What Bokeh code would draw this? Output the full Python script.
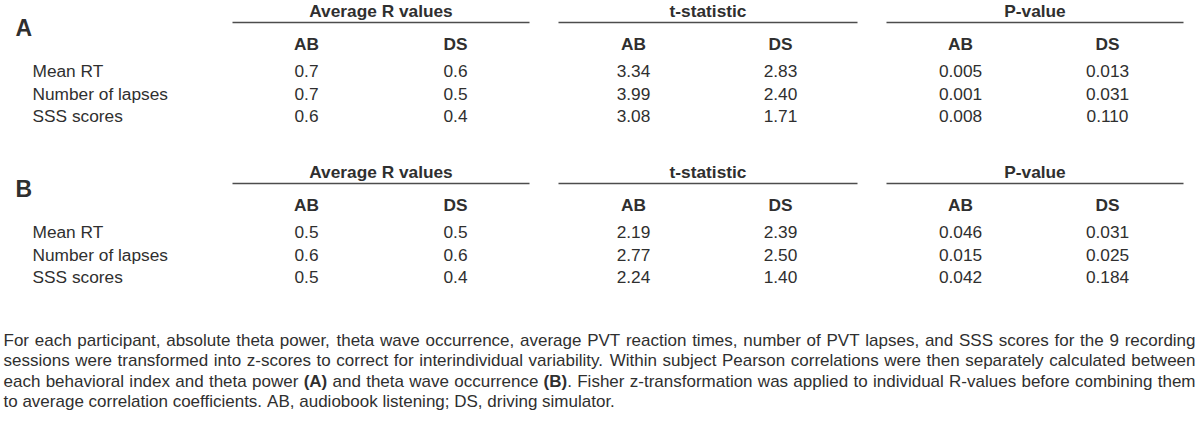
from bokeh.plotting import figure
from bokeh.models import Range1d, ColumnDataSource
from bokeh.core.properties import value
from bokeh.embed import file_html
from bokeh.resources import INLINE

# ---------------- data ----------------
row_labels = ["Mean RT", "Number of lapses", "SSS scores"]
group_titles = ["Average R values", "t-statistic", "P-value"]
sub_headers = ["AB", "DS"]
panel_letters = ["A", "B"]

# Panel A (theta power)
A_r_ab = [0.7, 0.7, 0.6]
A_r_ds = [0.6, 0.5, 0.4]
A_t_ab = [3.34, 3.99, 3.08]
A_t_ds = [2.83, 2.40, 1.71]
A_p_ab = [0.005, 0.001, 0.008]
A_p_ds = [0.013, 0.031, 0.110]

# Panel B (theta wave occurrence)
B_r_ab = [0.5, 0.6, 0.5]
B_r_ds = [0.5, 0.6, 0.4]
B_t_ab = [2.19, 2.77, 2.24]
B_t_ds = [2.39, 2.50, 1.40]
B_p_ab = [0.046, 0.015, 0.042]
B_p_ds = [0.031, 0.025, 0.184]

decimals = [1, 2, 3]

caption_runs = [
    [("For each participant, absolute theta power, theta wave occurrence, average PVT reaction times, number of PVT lapses, and SSS scores for the 9 recording", False)],
    [("sessions were transformed into z-scores to correct for interindividual variability. Within subject Pearson correlations were then separately calculated between", False)],
    [("each behavioral index and theta power ", False), ("(A)", True), (" and theta wave occurrence ", False), ("(B)", True),
     (". Fisher z-transformation was applied to individual R-values before combining them", False)],
    [("to average correlation coefficients. AB, audiobook listening; DS, driving simulator.", False)],
]

# ---------------- font metrics (Liberation Sans / Arial advance widths, 1/1000 em) ----------------
_REG = {' ': 278, '!': 278, '(': 333, ')': 333, ',': 278, '-': 333, '.': 278, ':': 278, ';': 278,
        'A': 667, 'B': 667, 'C': 722, 'D': 722, 'E': 667, 'F': 611, 'G': 778, 'H': 722, 'I': 278,
        'J': 500, 'K': 667, 'L': 556, 'M': 833, 'N': 722, 'O': 778, 'P': 667, 'Q': 778, 'R': 722,
        'S': 667, 'T': 611, 'U': 722, 'V': 667, 'W': 944, 'X': 667, 'Y': 667, 'Z': 611,
        'a': 556, 'b': 556, 'c': 500, 'd': 556, 'e': 556, 'f': 278, 'g': 556, 'h': 556, 'i': 222,
        'j': 222, 'k': 500, 'l': 222, 'm': 833, 'n': 556, 'o': 556, 'p': 556, 'q': 556, 'r': 333,
        's': 500, 't': 278, 'u': 556, 'v': 500, 'w': 722, 'x': 500, 'y': 500, 'z': 500}
_BOLD = {'(': 333, ')': 333, 'A': 722, 'B': 722, '.': 278}


def text_w(s, bold, fs):
    tab = _BOLD if bold else _REG
    return sum(tab.get(c, _REG.get(c, 556)) for c in s) / 1000.0 * fs


# ---------------- layout ----------------
FONT = value("Liberation Sans")
TXT = "#2f2f2f"
FS = "17.3px"
CAP_FS = 17.0

W, H = 1200, 429
p = figure(width=W, height=H, output_backend="svg", toolbar_location=None,
           x_range=Range1d(0, W), y_range=Range1d(H, 0),
           min_border=0, min_border_left=0, min_border_right=0,
           min_border_top=0, min_border_bottom=0)
p.axis.visible = False
p.grid.visible = False
p.outline_line_color = None
p.background_fill_color = "white"
p.border_fill_color = "white"

label_x = 32
letter_x = 15
col_x = [[306, 455], [633, 780], [960, 1107]]
line_spans = [(232, 529), (558, 857), (886, 1183)]
panel_offset = [0, 161]
# vertical text centres
title_mid = 10
line_y = 22
sub_mid = 43.5
row_mid = [70, 93, 115.5]
letter_mid = 27

panels = [
    [[A_r_ab, A_r_ds], [A_t_ab, A_t_ds], [A_p_ab, A_p_ds]],
    [[B_r_ab, B_r_ds], [B_t_ab, B_t_ds], [B_p_ab, B_p_ds]],
]

for pi, groups in enumerate(panels):
    off = panel_offset[pi]
    p.text(x=[letter_x], y=[letter_mid + off], text=[panel_letters[pi]],
           text_font=FONT, text_font_size="23px", text_font_style="bold",
           text_color=TXT, text_align="left", text_baseline="middle")
    p.text(x=[label_x] * len(row_labels), y=[b + off for b in row_mid], text=row_labels,
           text_font=FONT, text_font_size=FS, text_color=TXT,
           text_align="left", text_baseline="middle")
    for gi, grp in enumerate(groups):
        x0, x1 = line_spans[gi]
        p.text(x=[(x0 + x1) / 2], y=[title_mid + off], text=[group_titles[gi]],
               text_font=FONT, text_font_size=FS, text_font_style="bold",
               text_color=TXT, text_align="center", text_baseline="middle")
        p.segment(x0=[x0], y0=[line_y + off], x1=[x1], y1=[line_y + off],
                  line_color="#4d4d4d", line_width=1.6)
        for ci, vals in enumerate(grp):
            cx = col_x[gi][ci]
            p.text(x=[cx], y=[sub_mid + off], text=[sub_headers[ci]],
                   text_font=FONT, text_font_size=FS, text_font_style="bold",
                   text_color=TXT, text_align="center", text_baseline="middle")
            src = ColumnDataSource(dict(
                x=[cx] * len(vals),
                y=[b + off for b in row_mid],
                t=[f"{v:.{decimals[gi]}f}" for v in vals]))
            p.text(x="x", y="y", text="t", source=src,
                   text_font=FONT, text_font_size=FS, text_color=TXT,
                   text_align="center", text_baseline="middle")

# caption: justified lines (last line ragged)
cap_left, cap_right = 3, 1195
cap_mid = [339.5, 360, 380.5, 401]
xs, ys, ts, xb, yb, tb = [], [], [], [], [], []
for li, runs in enumerate(caption_runs):
    words, current = [], None
    for txt, bold in runs:
        for k, part in enumerate(txt.split(" ")):
            if k > 0:
                current = None
            if part:
                if current is None:
                    current = []
                    words.append(current)
                current.append((part, bold))
    widths = [sum(text_w(t, b, CAP_FS) for t, b in w) for w in words]
    last = li == len(caption_runs) - 1
    if last or len(words) < 2:
        gap = text_w(" ", False, CAP_FS)
    else:
        gap = (cap_right - cap_left - sum(widths)) / (len(words) - 1)
    x = cap_left
    for w, wd in zip(words, widths):
        rx = x
        for t, b in w:
            if b:
                xb.append(rx); yb.append(cap_mid[li]); tb.append(t)
            else:
                xs.append(rx); ys.append(cap_mid[li]); ts.append(t)
            rx += text_w(t, b, CAP_FS)
        x += wd + gap

p.text(x=xs, y=ys, text=ts, text_font=FONT, text_font_size=f"{CAP_FS}px",
       text_color=TXT, text_align="left", text_baseline="middle")
p.text(x=xb, y=yb, text=tb, text_font=FONT, text_font_size=f"{CAP_FS}px",
       text_font_style="bold", text_color=TXT, text_align="left", text_baseline="middle")

open("out.html", "w").write(file_html(p, INLINE))
